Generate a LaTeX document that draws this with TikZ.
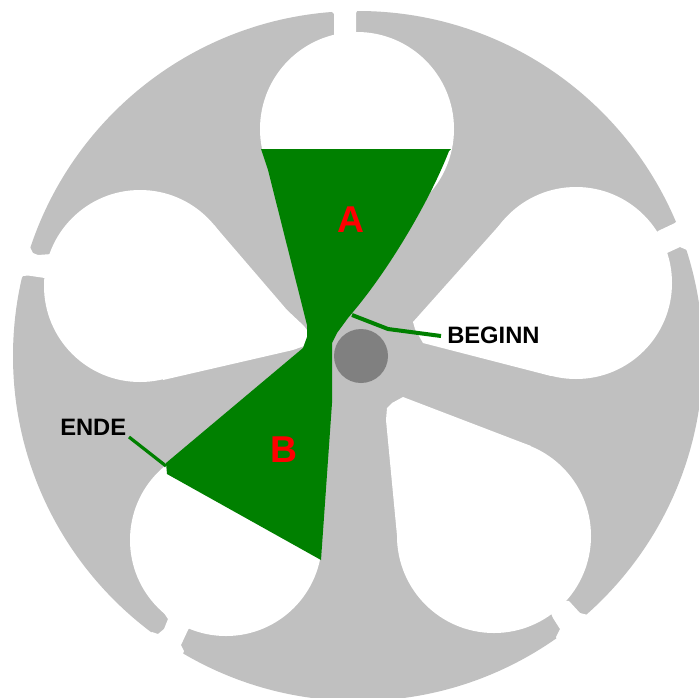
\documentclass[tikz,border=0pt]{standalone}
\usepackage{fontspec}
\setmainfont{Liberation Sans}
\definecolor{discgray}{HTML}{C0C0C0}
\definecolor{hubgray}{HTML}{808080}
\definecolor{sectorgreen}{HTML}{008000}
\tikzset{
  lobe/.style={fill=white,draw=none},
  sector/.style={fill=sectorgreen,draw=none},
  leader/.style={draw=sectorgreen,line join=round},
  caption/.style={font=\bfseries\fontsize{17.8}{20}\selectfont,text=black,inner sep=0pt},
  letter/.style={font=\bfseries\fontsize{28}{32}\selectfont,text=red,inner sep=0pt},
}
\begin{document}
\begin{tikzpicture}[x=0.75pt,y=-0.75pt]
\useasboundingbox (0,0) rectangle (699,697);
\clip (0,0) rectangle (699,697);
\fill[white] (0,0) rectangle (699,697);
% disc
\fill[discgray] (358,356) circle[radius=345*0.75pt];
% top opening
\fill[lobe] (357,129) circle[radius=97*0.75pt];
\fill[lobe] (331,-10) -- (331,11) -- (334,14) -- (334,40) -- (356,40) -- (356,13) -- (357,11) -- (357,-10) -- cycle;
% upper left opening
\fill[lobe] (140,286) circle[radius=96*0.75pt];
\fill[lobe] (140,286) -- (214,225) -- (287,310) -- (304,326) -- (307,330) -- (307,345) -- (293,350) -- (163,380) -- cycle;
\fill[lobe] (70,265) -- (52,254) -- (38,255) -- (33,253) -- (30,247) -- (5,235) -- (-10,280) -- (20,280) -- (23,276) -- (28,275.5) -- (45,278) -- cycle;
% upper right opening
\fill[lobe] (576,283) circle[radius=96*0.75pt];
\fill[lobe] (576,283) -- (504,220) -- (413,322) -- (415,329) -- (423,343) -- (551,376) -- cycle;
\fill[lobe] (640,250) -- (658,231) -- (675,223) -- (680,217) -- (710,205) -- (715,250) -- (687,250) -- (680,247) -- (667,253) -- cycle;
% lower right opening
\fill[lobe] (494,536) circle[radius=97*0.75pt];
\fill[lobe] (494,536) -- (531,446) -- (403,397) -- (392,403) -- (387,408) -- (386,420) -- (398,546) -- cycle;
\fill[lobe] (545,600) -- (569,601) -- (580,613) -- (586,614.5) -- (610,620) -- (570,670) -- (556,637) -- (560,629) -- (553,618) -- cycle;
% lower left opening
\fill[lobe] (226,540) circle[radius=96*0.75pt];
\fill[lobe] (190,600) -- (160,607) -- (168,619) -- (164,629) -- (158,634) -- (152,632) -- (130,650) -- (170,690) -- (184,651) -- (181,645) -- (188,630) -- (200,610) -- cycle;
% hub
\fill[hubgray] (361,356) circle[radius=27*0.75pt];
% green sectors
\fill[sector] (261,149) -- (451,149) -- (449,151) .. controls (430,200) and (390,268) .. (353,312)
  -- (348,318) -- (337,333) -- (332,343) -- (332,403) -- (321,560)
  -- (167,474) -- (166,463) -- (303,348) -- (307,337) -- (307,325) -- (268,170) -- cycle;
% labels
\node[caption,anchor=west] (beginn) at (447,335) {BEGINN};
\node[caption,anchor=west] (ende) at (60,427) {ENDE};
\node[letter] (a) at (351,220) {A};
\node[letter] (b) at (284,450) {B};
% leaders
\coordinate (beginnTip) at (352,315);
\coordinate (beginnBend) at (388,329);
\coordinate (beginnEnd) at (441,336);
\coordinate (endeTip) at (166,466);
\coordinate (endeEnd) at (129,437);
\draw[leader,line width=3pt] (beginnTip) -- (beginnBend) -- (beginnEnd);
\draw[leader,line width=2.4pt] (endeTip) -- (endeEnd);
\end{tikzpicture}
\end{document}
